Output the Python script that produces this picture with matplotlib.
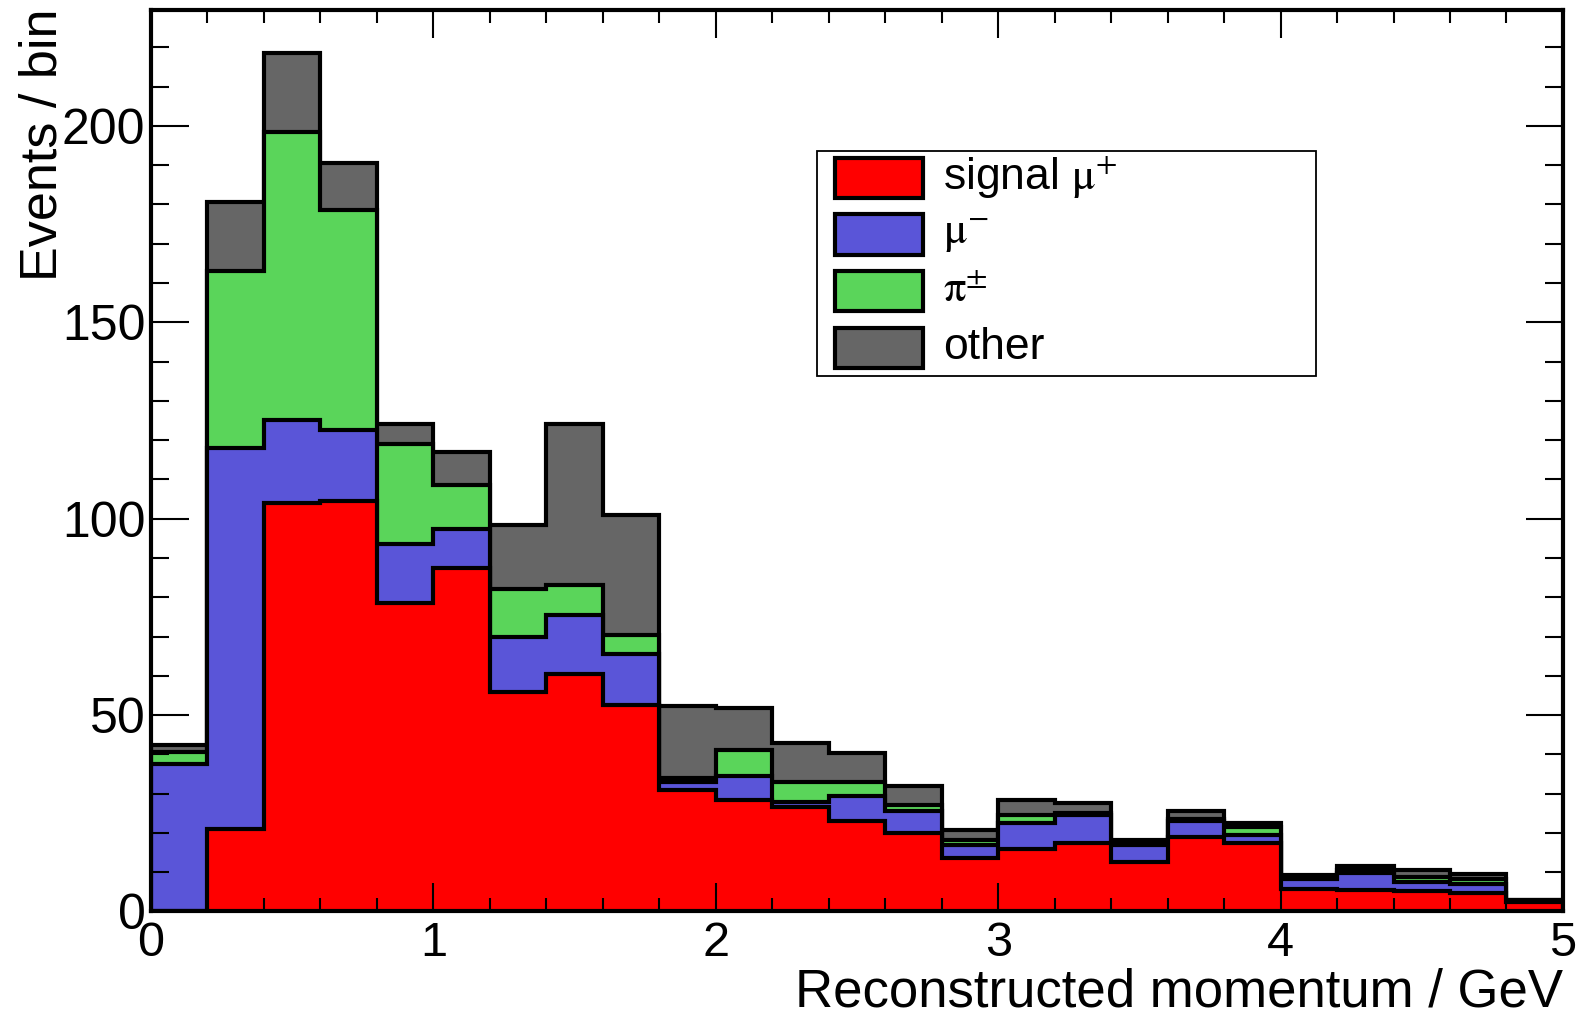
import matplotlib
matplotlib.use("Agg")
import matplotlib.pyplot as plt
from matplotlib.patches import Rectangle
from matplotlib.ticker import MultipleLocator
import numpy as np

plt.rcParams['font.family'] = ['Liberation Sans', 'DejaVu Sans']
plt.rcParams['mathtext.fontset'] = 'stix'

# bin edges 0..5 GeV, 0.2 wide
edges = np.linspace(0, 5, 26)

# cumulative tops (stack order: signal, mu-, pi, other)
signal_top = [0, 21, 104, 104.5, 78.5, 87.5, 56, 60.5, 52.5, 31, 28.5, 26.5, 23,
              20, 13.5, 16, 17.5, 12.5, 19, 17.5, 5.8, 5.5, 5.2, 4.8, 2.5]
muminus_top = [37.5, 118, 125, 122.5, 93.5, 97.5, 70, 75.5, 65.5, 33, 34.5, 28, 29.5,
               25.5, 17, 22.5, 24.5, 17, 23, 19.5, 8.2, 9.7, 7.6, 7.0, 2.7]
pion_top = [40.5, 163, 198.5, 178.5, 119, 108.5, 82, 83, 70.5, 34, 41, 33, 33,
            27, 18.2, 24.5, 25, 17.6, 23.5, 21.5, 8.6, 10.6, 8.8, 8.2, 2.8]
other_top = [42.3, 180.5, 218.5, 190.5, 124, 117, 98.5, 124, 101, 52.2, 51.7, 43, 40.3,
             32, 20.8, 28.5, 27.6, 18.3, 25.5, 22.5, 9.3, 11.6, 10.6, 9.6, 3.0]

labels = [r'signal $\mathrm{\mu}^{+}$', r'$\mathrm{\mu}^{-}$', r'$\mathrm{\pi}^{\pm}$', 'other']
colors = ['#ff0000', '#5a55d8', '#5ad55a', '#666666']

fig = plt.figure(figsize=(15.81, 10.19), dpi=100)
ax = fig.add_axes([0.0955, 0.1055, 0.8931, 0.8847])

# draw biggest stack first, smaller ones on top of it
tops = [signal_top, muminus_top, pion_top, other_top]
for vals, col in reversed(list(zip(tops, colors))):
    ax.stairs(vals, edges, fill=True, baseline=0, facecolor=col,
              edgecolor='black', linewidth=3)

ax.set_xlim(0, 5)
ax.set_ylim(0, 229.5)

ax.xaxis.set_major_locator(MultipleLocator(1))
ax.xaxis.set_minor_locator(MultipleLocator(0.2))
ax.yaxis.set_major_locator(MultipleLocator(50))
ax.yaxis.set_minor_locator(MultipleLocator(10))
ax.tick_params(which='both', direction='in', top=True, right=True, width=1.5)
ax.tick_params(axis='x', which='major', length=20, labelsize=35, pad=7)
ax.tick_params(axis='x', which='minor', length=9.5)
ax.tick_params(axis='y', which='major', length=27, labelsize=36, pad=4)
ax.tick_params(axis='y', which='minor', length=13)
for s in ax.spines.values():
    s.set_linewidth(3)

fig.text(0.9886, 0.001, 'Reconstructed momentum / GeV', ha='right', va='bottom', fontsize=38)
fig.text(0.0425, 0.992, 'Events / bin', rotation=90, ha='right', va='top', fontsize=37.5)

# legend box drawn by hand (ROOT style)
ax.add_patch(Rectangle((0.4717, 0.594), 0.3534, 0.2496, transform=ax.transAxes,
                       facecolor='white', edgecolor='black', lw=1.3, zorder=5))
row_y = [0.8136, 0.751, 0.6885, 0.6252]
for yc, col, lab in zip(row_y, colors, labels):
    ax.add_patch(Rectangle((0.4844, yc - 0.0224), 0.0623, 0.0447, transform=ax.transAxes,
                           facecolor=col, edgecolor='black', lw=3, zorder=6))
    ax.text(0.5609, yc, lab, transform=ax.transAxes, ha='left', va='center',
            fontsize=32, zorder=7)

fig.savefig('out.png', dpi=100)
